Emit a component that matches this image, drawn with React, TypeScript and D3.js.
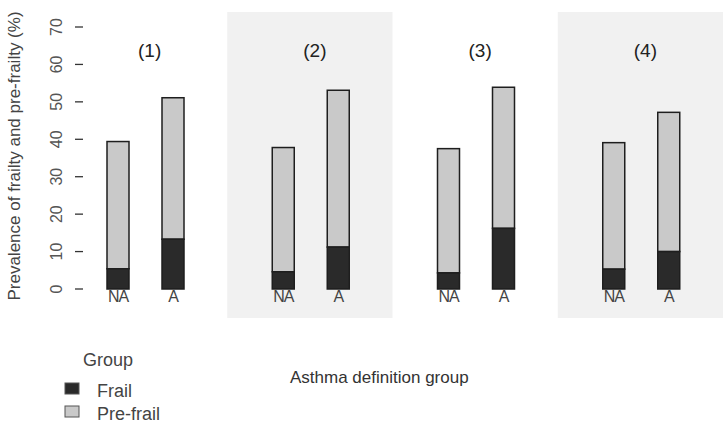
import React from "react";
import * as d3 from "d3";

const panels = ["(1)", "(2)", "(3)", "(4)"];
const groups = ["NA", "A"];
const frail = [
  [5.4, 13.3],
  [4.6, 11.2],
  [4.3, 16.2],
  [5.3, 10.0],
];
const total = [
  [39.4, 51.1],
  [37.8, 53.1],
  [37.5, 53.9],
  [39.1, 47.2],
];
const yTicks = [0, 10, 20, 30, 40, 50, 60, 70];
const legendItems = ["Frail", "Pre-frail"];

const FRAIL = "#2a2a2a";
const PREFRAIL = "#c9c9c9";
const TEXT = "#444";
const FONT = "Liberation Sans, Arial, sans-serif";

export default function App() {
  const W = 725, H = 423;
  const y = d3.scaleLinear().domain([0, 70]).range([289, 27]);
  const px = d3.scaleBand<number>().domain(d3.range(panels.length)).range([62, 723]).padding(0);
  const bx = d3.scalePoint<string>().domain(groups).range([56, 111]);
  const barW = 22;
  const panelTop = 12, panelBottom = 318;

  return (
    <svg width={W} height={H} style={{ position: "absolute", left: 0, top: 0, background: "#fff" }} fontFamily={FONT}>
      {panels.map((p, i) => (
        <g key={p} transform={`translate(${px(i)},0)`}>
          {i % 2 === 1 && (
            <rect x={0} y={panelTop} width={px.bandwidth()} height={panelBottom - panelTop} fill="#f1f1f1" />
          )}
          <text x={px.bandwidth() / 2 + 5} y={57} textAnchor="middle" fontSize={19} fill="#222">{p}</text>
          {groups.map((g, j) => {
            const cx = bx(g)!;
            const x0 = cx - barW / 2;
            return (
              <g key={g}>
                <rect x={x0} y={y(total[i][j])} width={barW} height={y(frail[i][j]) - y(total[i][j])} fill={PREFRAIL} stroke="#1e1e1e" strokeWidth={1.5} />
                <rect x={x0} y={y(frail[i][j])} width={barW} height={y(0) - y(frail[i][j])} fill={FRAIL} stroke="#1e1e1e" strokeWidth={1.5} />
                <text x={cx} y={302} textAnchor="middle" fontSize={16} fill={TEXT} letterSpacing={-1}>{g}</text>
              </g>
            );
          })}
        </g>
      ))}
      {yTicks.map((t) => (
        <g key={t}>
          <line x1={75} x2={83} y1={y(t)} y2={y(t)} stroke="#333" strokeWidth={1.3} />
          <text transform={`translate(62,${y(t)}) rotate(-90)`} textAnchor="middle" fontSize={16} fill="#555">{t}</text>
        </g>
      ))}
      <text transform={`translate(20,156) rotate(-90)`} textAnchor="middle" fontSize={17} fill={TEXT}>
        Prevalence of frailty and pre-frailty (%)
      </text>
      <text x={290} y={383} fontSize={17} fill="#333">Asthma definition group</text>
      <text x={83} y={366} fontSize={18} fill={TEXT}>Group</text>
      {legendItems.map((l, k) => (
        <g key={l}>
          <rect x={65} y={383 + k * 23} width={14} height={11} fill={k === 0 ? FRAIL : PREFRAIL} stroke="#555" strokeWidth={1} />
          <text x={97} y={397 + k * 23} fontSize={18} fill={TEXT}>{l}</text>
        </g>
      ))}
    </svg>
  );
}
